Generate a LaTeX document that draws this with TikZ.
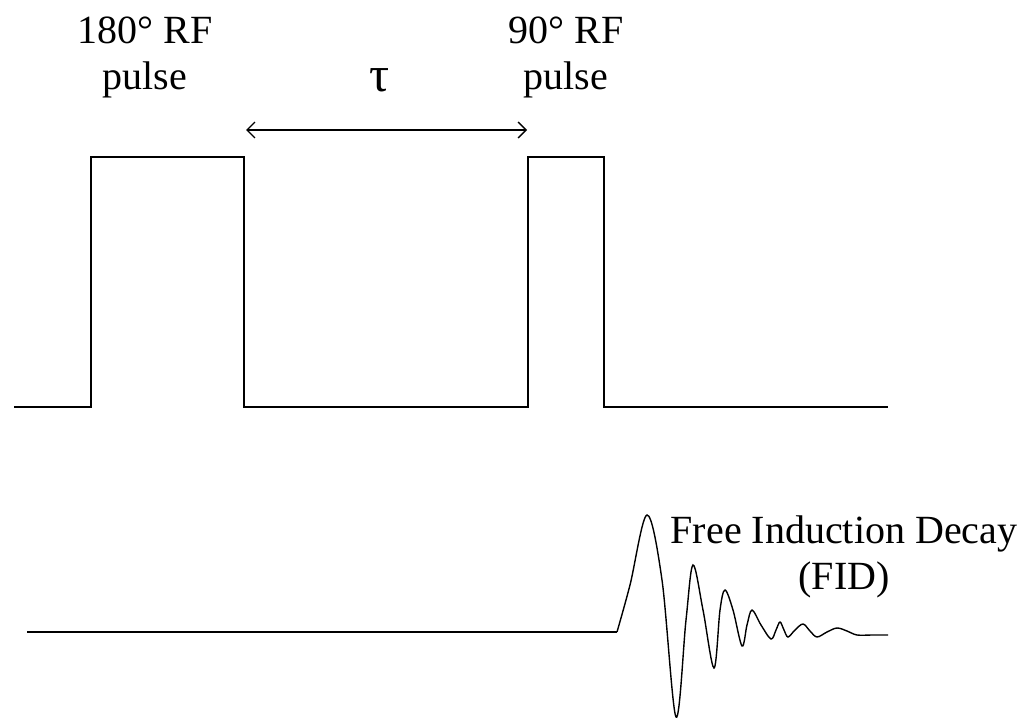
\documentclass[tikz,border=0pt]{standalone}
\usepackage{fontspec}
\setmainfont{Liberation Serif}
\usetikzlibrary{arrows.meta}
\begin{document}
\begin{tikzpicture}[x=1pt,y=-1pt,
  lbl/.style={align=center,inner sep=0pt,font=\fontsize{40}{46}\selectfont},
  sig/.style={line width=1.5pt,line join=miter},
  dim/.style={line width=1.3pt,{Straight Barb[length=8pt,width=16pt]}-{Straight Barb[length=8pt,width=16pt]}}]
\useasboundingbox (0,0) rectangle (1025,719);
% pulse sequence
\draw[sig] (14,407) -- (91,407) -- (91,157) -- (244,157) -- (244,407) -- (528,407) -- (528,157) -- (604,157) -- (604,407) -- (888,407);
\coordinate (tauL) at (246,130);
\coordinate (tauR) at (527,130);
\draw[dim] (tauL) -- (tauR);
\node[lbl] (p180) at (145,57) {180° RF\\pulse};
\node[lbl] (p90) at (566,57) {90° RF\\pulse};
\node[lbl,font=\fontsize{50}{50}\selectfont] (tau) at (380,80) {τ};
% FID
\draw[sig] (27,632) -- (617,632);
\draw[line width=1.4pt] plot[smooth,tension=0.55] coordinates {(617,632) (630,585) (647,515) (662,580) (676,717) (686,620) (693,565) (703,610) (714,668) (720,610) (725,590) (733,610) (742,646) (747,625) (752,610) (761,625) (771,639) (776,630) (780,622) (784,630) (788,637) (795,630) (803,624) (810,631) (817,637) (827,632) (837,628) (847,631) (857,635) (872,635) (888,635)};
\node[lbl] (fid) at (844,557) {Free Induction Decay\\(FID)};
\end{tikzpicture}
\end{document}
